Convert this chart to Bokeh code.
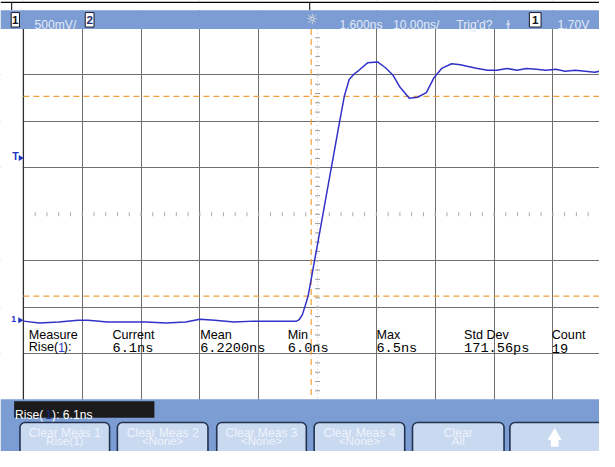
import numpy as np
from bokeh.plotting import figure
from bokeh.models import Range1d, FixedTicker
from bokeh.embed import file_html
from bokeh.resources import INLINE
from bokeh.core.properties import value

# ---------------- data ----------------
time_ns = [-50.0, -47.3, -44.0, -40.7, -39.0, -35.7, -32.4, -29.1, -25.8, -22.4,
           -20.0, -17.5, -14.2, -10.8, -7.5, -4.2, -3.56, -3.06, -2.57, -2.07,
           -1.57, -0.91, -0.08, 0.75, 1.57, 2.57, 3.56, 4.55, 5.38, 6.21,
           7.04, 8.5, 10.2, 11.5, 12.8, 14.0, 15.6, 17.0, 18.5, 19.8,
           21.1, 22.8, 24.3, 25.6, 27.2, 28.9, 30.5, 32.2, 33.9, 35.5,
           37.2, 38.8, 40.5, 42.1, 43.8, 45.5, 47.1, 48.0]
volts = [0.00, -0.02, -0.01, 0.01, 0.01, -0.01, -0.01, -0.01, -0.02, -0.01,
         0.02, 0.01, -0.01, 0.00, 0.00, 0.00, 0.00, 0.02, 0.07, 0.17,
         0.28, 0.51, 0.80, 1.09, 1.38, 1.73, 2.08, 2.42, 2.60, 2.66,
         2.70, 2.78, 2.79, 2.73, 2.65, 2.52, 2.40, 2.41, 2.46, 2.62,
         2.72, 2.77, 2.76, 2.74, 2.72, 2.70, 2.70, 2.72, 2.70, 2.72,
         2.71, 2.70, 2.71, 2.69, 2.70, 2.69, 2.68, 2.69]

thresh_high_v = 2.42      # 90 % level
thresh_low_v = 0.27       # 10 % level
marker_t_ns = -1.08       # time marker

x_div_ns = [-50, -40, -30, -20, -10, 10, 20, 30, 40]
y_div_v = [-0.35, 0.15, 0.65, 1.65, 2.15, 2.65, 3.15]
center_t_ns = 0.0
center_v = 1.15

meas_headers = ["Current", "Mean", "Min", "Max", "Std Dev", "Count"]
meas_values = ["6.1ns", "6.2200ns", "6.0ns", "6.5ns", "171.56ps", "19"]

softkey_line1 = ["Clear Meas 1", "Clear Meas 2", "Clear Meas 3", "Clear Meas 4", "Clear"]
softkey_line2 = ["Rise(1)", "<None>", "<None>", "<None>", "All"]

# ---------------- screen layout helpers (reference pixels -> data) ----------------
PX_NS, X0 = 6.04, 325.5
PX_V, Y0 = 96.2, 332.0
def X(px):
    return (px - X0) / PX_NS
def Y(py):
    return (Y0 - py) / PX_V
def fs(s):
    return f"{s * 0.97:.1f}px"

BLUE = "#7b9dd3"
TXT = "#e2e9f6"
ORANGE = "#f0a03c"
SANS = value("Liberation Sans")
MONO = value("Liberation Mono")

p = figure(width=599, height=451, x_range=Range1d(X(0), X(615)),
           y_range=Range1d(Y(467), Y(0)), min_border=0,
           toolbar_location=None, output_backend="svg",
           x_axis_location=None, y_axis_location=None,
           outline_line_color=None, background_fill_color="white")

p.xgrid.ticker = FixedTicker(ticks=x_div_ns)
p.ygrid.ticker = FixedTicker(ticks=y_div_v)
for g in (p.xgrid, p.ygrid):
    g.grid_line_color = "#6f6f6f"
    g.grid_line_width = 1

# cover areas (top strip, left margin, header, footer)
p.quad(left=X(0), right=X(615), bottom=Y(10), top=Y(0), fill_color="white", line_color=None)
p.segment(x0=[X(0)], y0=[Y(2)], x1=[X(615)], y1=[Y(2)], line_color="black", line_width=1.2)
p.segment(x0=[X(11.5), X(317.5)], y0=[Y(2)] * 2, x1=[X(11.5), X(317.5)], y1=[Y(10)] * 2,
          line_color="black", line_width=1)
p.quad(left=X(0), right=X(23), bottom=Y(413), top=Y(29), fill_color="white", line_color=None)
p.quad(left=X(0), right=X(615), bottom=Y(29.5), top=Y(10), fill_color=BLUE, line_color=None)
p.quad(left=X(0), right=X(615), bottom=Y(467), top=Y(413), fill_color=BLUE, line_color=None)
# darker left border of graticule
p.segment(x0=[x_div_ns[0]], y0=[Y(29.5)], x1=[x_div_ns[0]], y1=[Y(413)], line_color="#2e2e2e", line_width=1.3)

# centre axes with minor ticks
p.segment(x0=[center_t_ns], y0=[Y(29.5)], x1=[center_t_ns], y1=[Y(413)],
          line_color="#c8c8c8", line_dash="1 3")
vt = np.round(np.arange(-0.75, 3.1, 0.1), 3)
p.scatter(x=[center_t_ns] * len(vt), y=vt, marker="dash", size=5, line_color="#9c9c9c")
ht = np.arange(-48, 50, 2)
ht = ht[ht != 0]
p.scatter(x=ht, y=[center_v] * len(ht), marker="dash", angle=np.pi / 2, size=4,
          line_color="#a8a8a8")

# threshold / marker lines
for lv in (thresh_high_v, thresh_low_v):
    p.line(x=[x_div_ns[0], X(615)], y=[lv, lv], line_color=ORANGE, line_dash="6 4", line_width=1.2)
p.line(x=[marker_t_ns, marker_t_ns], y=[Y(29.5), Y(413)], line_color=ORANGE,
       line_dash="6 4", line_width=1.2)

# waveform
p.line(x=time_ns, y=volts, line_color="#3232c8", line_width=1.5)

# left markers
p.text(x=[X(12)], y=[Y(161)], text=["T"], text_color="#2233c0", text_font=SANS,
       text_font_size=fs(11), text_font_style="bold", text_baseline="middle")
p.scatter(x=[X(20.5)], y=[Y(163)], marker="triangle", angle=-np.pi / 2, size=6,
          fill_color="#2233c0", line_color=None)
p.text(x=[X(11)], y=[Y(330)], text=["1"], text_color="#2233c0", text_font=SANS,
       text_font_size=fs(9), text_font_style="bold", text_baseline="middle")
p.scatter(x=[X(20)], y=[Y(331)], marker="triangle", angle=-np.pi / 2, size=6,
          fill_color="#2233c0", line_color=None)

# measurement table
p.text(x=[X(29)], y=[Y(346)], text=["Measure"], text_font=SANS, text_font_size=fs(13),
       text_color="black", text_baseline="alphabetic")
p.text(x=[X(29)], y=[Y(359)], text=["Rise("], text_font=SANS, text_font_size=fs(13),
       text_color="black", text_baseline="alphabetic")
p.text(x=[X(59)], y=[Y(359)], text=["1"], text_font=SANS, text_font_size=fs(13),
       text_color="#2a3cd0", text_baseline="alphabetic")
p.text(x=[X(65)], y=[Y(359)], text=["):"], text_font=SANS, text_font_size=fs(13),
       text_color="black", text_baseline="alphabetic")
col_px = [115, 205, 295, 386, 476, 566]
p.text(x=[X(c) for c in col_px], y=[Y(346)] * 6, text=meas_headers, text_font=SANS,
       text_font_size=fs(13), text_color="black", text_baseline="alphabetic")
p.text(x=[X(c) for c in col_px], y=[Y(360)] * 6, text=meas_values, text_font=MONO,
       text_font_size=fs(14), text_color="black", text_baseline="alphabetic")

# header
p.quad(left=[X(11), X(87), X(543)], right=[X(19.5), X(96), X(555)],
       bottom=[Y(27.5)] * 3, top=[Y(12.5)] * 3, fill_color="white", line_color="#1a1a2a",
       line_width=1)
p.text(x=[X(15.2), X(91.5), X(549)], y=[Y(20.5)] * 3, text=["1", "2", "1"],
       text_color=["#111111", "#1a2a6a", "#111111"], text_font=SANS, text_font_size=fs(12),
       text_font_style="bold", text_align="center", text_baseline="middle")
hdr_x = [35, 348, 403, 468, 572]
hdr_t = ["500mV/", "1.600ns", "10.00ns/", "Trig'd?", "1.70V"]
p.text(x=[X(v) for v in hdr_x], y=[Y(25)] * 5, text=hdr_t, text_color=TXT, text_font=SANS,
       text_font_size=fs(12.5), text_baseline="alphabetic")
p.text(x=[X(320)], y=[Y(19.5)], text=["☼"], text_color="#f3eedc", text_font=value("DejaVu Sans"),
       text_font_size=fs(14), text_align="center", text_baseline="middle")
p.text(x=[X(521)], y=[Y(25)], text=["ɫ"], text_color=TXT, text_font=value("DejaVu Sans"),
       text_font_size=fs(12), text_align="center", text_baseline="alphabetic")

# footer
p.quad(left=X(14), right=X(158), bottom=Y(432), top=Y(415), fill_color="#1b1b1b", line_color=None)
p.text(x=[X(15)], y=[Y(429)], text=["Rise("], text_color="white", text_font=SANS,
       text_font_size=fs(12.5), text_baseline="alphabetic")
p.text(x=[X(46)], y=[Y(429)], text=["1"], text_color="#1c2a80", text_font=SANS,
       text_font_size=fs(12.5), text_baseline="alphabetic")
p.text(x=[X(53)], y=[Y(429)], text=["): 6.1ns"], text_color="white", text_font=SANS,
       text_font_size=fs(12.5), text_baseline="alphabetic")

btn_l = [20, 120, 222, 322, 423, 523]
btn_r = [112, 213, 314, 415, 517, 640]
p.quad(left=[X(v) for v in btn_l], right=[X(v) for v in btn_r], bottom=[Y(490)] * 6,
       top=[Y(437)] * 6, fill_color="#c9d9f0", line_color="#22324f", line_width=1.6,
       border_radius=5)
centers = [(a + b) / 2 for a, b in zip(btn_l[:5], btn_r[:5])]
p.text(x=[X(c) for c in centers], y=[Y(448)] * 5, text=softkey_line1, text_color="#eef3fb",
       text_font=SANS, text_font_size=fs(12.5), text_align="center", text_baseline="alphabetic")
p.text(x=[X(c) for c in centers], y=[Y(456)] * 5, text=softkey_line2, text_color="#eef3fb",
       text_font=SANS, text_font_size=fs(12), text_align="center", text_baseline="middle")
p.scatter(x=[X(569)], y=[Y(451)], marker="triangle", size=14, fill_color="white", line_color=None)
p.quad(left=X(565), right=X(573), bottom=Y(462), top=Y(454), fill_color="white", line_color=None)

open("out.html", "w").write(file_html(p, INLINE))
